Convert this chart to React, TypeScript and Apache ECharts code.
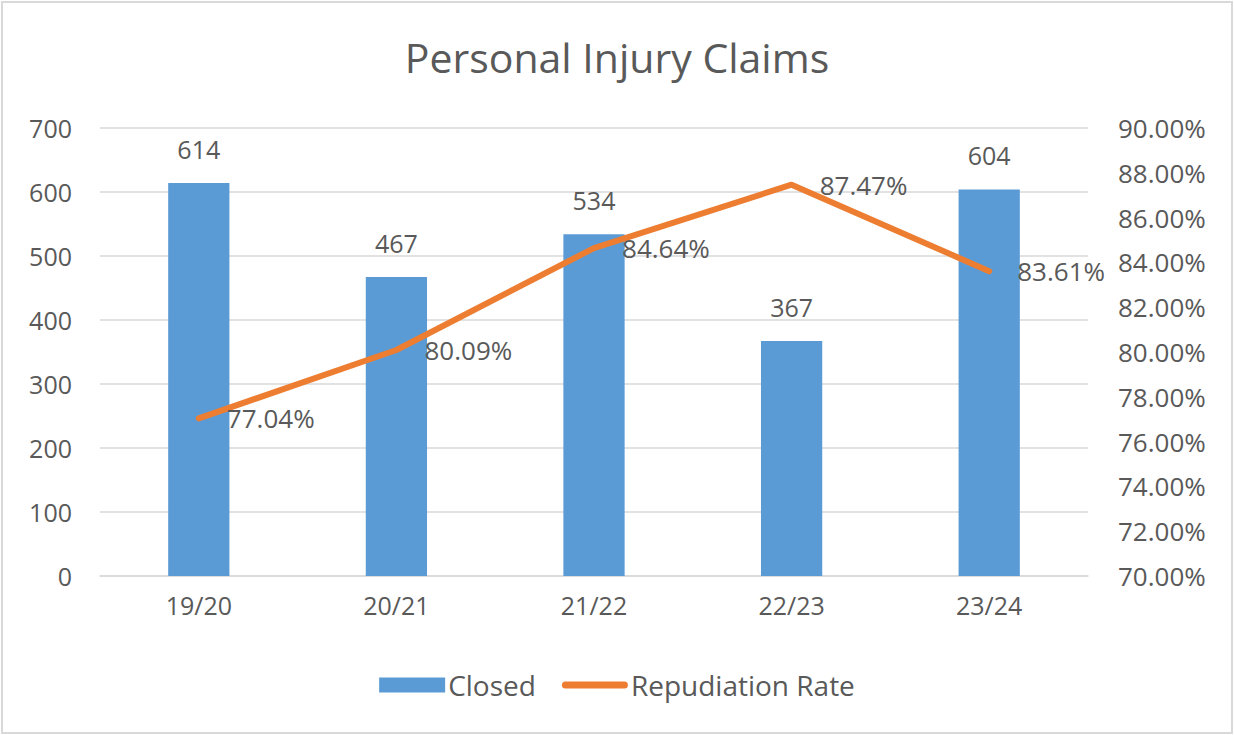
import React, { useEffect, useRef } from "react";
import * as echarts from "echarts";

const categories = ["19/20", "20/21", "21/22", "22/23", "23/24"];
const closedValues = [614, 467, 534, 367, 604];
const repudiationRates = [77.04, 80.09, 84.64, 87.47, 83.61];

const FONT = "'Open Sans', 'Noto Sans', sans-serif";
const TXT = "#595959";
const FS = 25;

export default function App() {
  const ref = useRef<HTMLDivElement>(null);
  useEffect(() => {
    document.body.style.margin = "0";
    const chart = echarts.init(ref.current!, null, { renderer: "svg" });
    chart.setOption({
      animation: false,
      backgroundColor: "#ffffff",
      textStyle: { fontFamily: FONT },
      title: {
        text: "Personal Injury Claims",
        left: "center",
        top: 31,
        textStyle: { fontSize: 41, fontWeight: "normal", color: TXT, fontFamily: FONT },
      },
      legend: {
        top: 666,
        left: "center",
        itemGap: 26,
        itemWidth: 66,
        itemHeight: 15,
        textStyle: { fontSize: 28, color: TXT, fontFamily: FONT, padding: [0, 0, 0, -2] },
        data: [
          { name: "Closed", icon: "rect" },
          {
            name: "Repudiation Rate",
            icon:
              "path://M0,0 L0,0 M66,15 L66,15 M3.5,4 L62.5,4 A3.5,3.5 0 0 1 62.5,11 L3.5,11 A3.5,3.5 0 0 1 3.5,4 Z",
          },
        ],
      },
      grid: { left: 100, right: 146, top: 128, bottom: 159 },
      xAxis: {
        type: "category",
        data: categories,
        axisTick: { show: false },
        axisLine: { lineStyle: { color: "#d9d9d9", width: 1.5 } },
        axisLabel: { fontSize: FS, color: TXT, margin: 16, fontFamily: FONT },
      },
      yAxis: [
        {
          type: "value",
          min: 0,
          max: 700,
          interval: 100,
          axisLine: { show: false },
          axisTick: { show: false },
          splitLine: { lineStyle: { color: "#d9d9d9", width: 1.5 } },
          axisLabel: { fontSize: FS, color: TXT, margin: 28, fontFamily: FONT },
        },
        {
          type: "value",
          min: 70,
          max: 90,
          interval: 2,
          axisLine: { show: false },
          axisTick: { show: false },
          splitLine: { show: false },
          axisLabel: {
            fontSize: 26,
            color: TXT,
            margin: 30,
            fontFamily: FONT,
            formatter: (v: number) => v.toFixed(2) + "%",
          },
        },
      ],
      series: [
        {
          name: "Closed",
          type: "bar",
          data: closedValues,
          barWidth: "31%",
          itemStyle: { color: "#5b9bd5" },
          label: {
            show: true,
            position: "top",
            distance: 22,
            fontSize: FS,
            color: TXT,
            fontFamily: FONT,
          },
        },
        {
          name: "Repudiation Rate",
          type: "line",
          yAxisIndex: 1,
          data: repudiationRates,
          symbol: "circle",
          symbolSize: 0.1,
          showSymbol: true,
          lineStyle: { color: "#ed7d31", width: 6, cap: "round", join: "round" },
          itemStyle: { color: "#ed7d31" },
          label: {
            show: true,
            position: "right",
            distance: 28,
            fontSize: 26,
            color: TXT,
            fontFamily: FONT,
            formatter: (p: any) => Number(p.value).toFixed(2) + "%",
          },
        },
      ],
      graphic: [
        {
          type: "rect",
          shape: { x: 2, y: 2, width: 1230, height: 731 },
          style: { fill: "none", stroke: "#d9d9d9", lineWidth: 2 },
          silent: true,
        },
      ],
    });
    return () => chart.dispose();
  }, []);
  return (
    <div
      ref={ref}
      style={{ position: "fixed", left: 0, top: 0, width: 1234, height: 735 }}
    />
  );
}
